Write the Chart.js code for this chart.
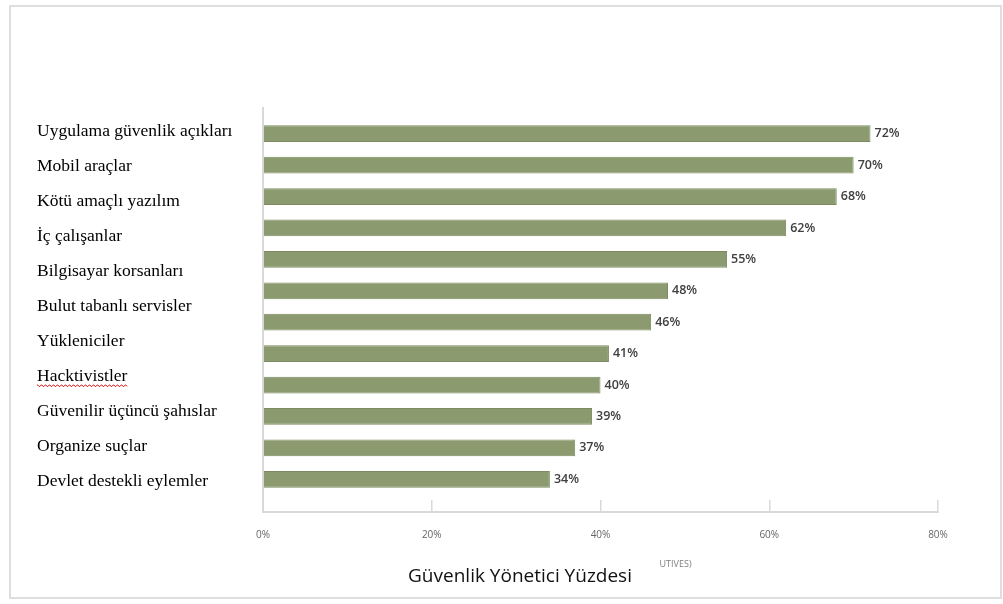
<!DOCTYPE html>
<html>
<head>
<meta charset="utf-8">
<script src="https://cdn.jsdelivr.net/npm/chart.js@4.4.1/dist/chart.umd.min.js"></script>
<style>
  html, body { margin:0; padding:0; background:#fff; }
  #frame { position:absolute; left:9px; top:5px; width:989px; height:590px; border:2px solid #dedede; }
  #wrap { position:absolute; left:0; top:0; width:1003px; height:604px; }
</style>
</head>
<body>
<div id="frame"></div>
<div id="wrap"><canvas id="chart" width="1003" height="604"></canvas></div>
<script>
// --- Data ---
const categories = [
  "Uygulama güvenlik açıkları",
  "Mobil araçlar",
  "Kötü amaçlı yazılım",
  "İç çalışanlar",
  "Bilgisayar korsanları",
  "Bulut tabanlı servisler",
  "Yükleniciler",
  "Hacktivistler",
  "Güvenilir üçüncü şahıslar",
  "Organize suçlar",
  "Devlet destekli eylemler"
];
const percents = [72, 70, 68, 62, 55, 48, 46, 41, 40, 39, 37, 34];
const xTickLabels = ["0%", "20%", "40%", "60%", "80%"];
const chartTitle = "Güvenlik Yönetici Yüzdesi";
const strayCaption = "UTIVES)";
const misspelled = "Hacktivistler";

const labelFont = { family: 'Liberation Serif', size: 17.5 };

// value labels at bar ends + small extras
const extrasPlugin = {
  id: 'extras',
  afterDatasetsDraw(chart){
    const ctx = chart.ctx;
    const meta = chart.getDatasetMeta(0);
    ctx.save();
    ctx.font = '600 12.5px "Open Sans"';
    ctx.fillStyle = '#404040';
    ctx.textAlign = 'left';
    ctx.textBaseline = 'middle';
    meta.data.forEach((bar,i)=>{ ctx.fillText(percents[i] + '%', bar.x + 4, bar.y); });

    // stray caption under axis
    const xs = chart.scales.x;
    ctx.font = '9px "Open Sans"';
    ctx.fillStyle = '#7f7f7f';
    ctx.fillText(strayCaption, xs.getPixelForValue(47), 564);

    // spell-check squiggle under one label
    const y2 = chart.scales.y2;
    const idx = categories.indexOf(misspelled);
    if(idx >= 0){
      ctx.font = labelFont.size + 'px "' + labelFont.family + '"';
      const w = ctx.measureText(misspelled).width;
      const yy = y2.getPixelForValue(idx) + 9;
      const x0 = y2.left;
      ctx.strokeStyle = '#e03030';
      ctx.lineWidth = 1;
      ctx.beginPath();
      for(let x = 0; x <= w; x += 1){
        const yv = yy + (Math.floor(x / 2) % 2 === 0 ? 0 : 1.5);
        if(x === 0) ctx.moveTo(x0 + x, yv); else ctx.lineTo(x0 + x, yv);
      }
      ctx.stroke();
    }
    ctx.restore();
  }
};

new Chart(document.getElementById('chart').getContext('2d'), {
  type: 'bar',
  data: {
    datasets: [{
      data: percents.map((v,i)=>({ x: v, y: i })),
      backgroundColor: '#8b9b6f',
      borderColor: '#7c8c60',
      borderWidth: 1,
      categoryPercentage: 1,
      barPercentage: 0.62,
      yAxisID: 'y'
    }]
  },
  options: {
    indexAxis: 'y',
    responsive: false,
    animation: false,
    layout: { padding: { left: 37, right: 0, top: 108, bottom: 15.6 } },
    plugins: {
      legend: { display: false },
      tooltip: { enabled: false },
      title: {
        display: true,
        position: 'bottom',
        text: chartTitle,
        color: '#111',
        font: { family: 'Open Sans', size: 19, weight: 'normal' },
        padding: { top: 0, bottom: 0 }
      }
    },
    scales: {
      x: {
        type: 'linear',
        position: 'bottom',
        min: 0, max: 80,
        grid: { drawOnChartArea: false, tickLength: -12, color: '#d9d9d9', lineWidth: 1.5 },
        border: { color: '#d9d9d9', width: 2 },
        ticks: {
          stepSize: 20,
          padding: 29,
          color: '#666',
          font: { family: 'Open Sans', size: 10 },
          callback: (v)=> xTickLabels[Math.round(v / 20)]
        },
        afterFit: (s)=>{ s.height = 53.6; s.paddingRight = 65; }
      },
      y: {
        type: 'linear',
        display: false,
        reverse: true,
        offset: false,
        bounds: 'data',
        min: -0.818, max: 12.041
      },
      y2: {
        type: 'linear',
        position: 'left',
        reverse: true,
        offset: false,
        bounds: 'data',
        min: -0.657, max: 10.886,
        grid: { drawOnChartArea: false, drawTicks: false, offset: false },
        border: { color: '#d9d9d9', width: 2 },
        ticks: {
          autoSkip: false,
          crossAlign: 'far',
          padding: 0,
          color: '#000',
          font: labelFont,
          callback: (v)=> categories[v] ?? ''
        },
        afterBuildTicks: (s)=>{ s.ticks = categories.map((_, i)=>({ value: i })); },
        afterFit: (s)=>{ s.width = 226; }
      }
    }
  },
  plugins: [extrasPlugin]
});
</script>
</body>
</html>
